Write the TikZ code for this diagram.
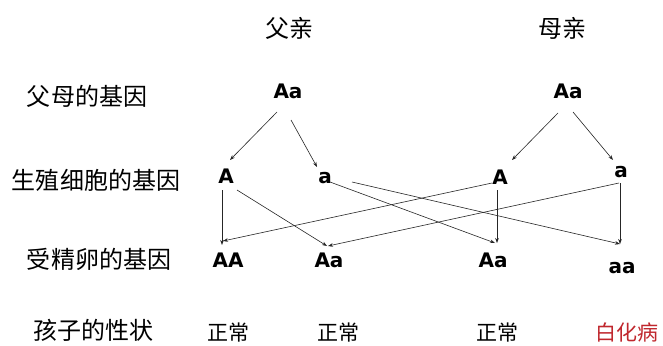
\documentclass[tikz,border=0pt]{standalone}
\usepackage{fontspec}
\setmainfont{DejaVu Sans}
\newfontfamily\cjk{Noto Sans CJK SC}
\usetikzlibrary{arrows.meta}
\begin{document}
\begin{tikzpicture}[x=1pt,y=-1pt,
  gene/.style={font=\fontsize{20}{20}\selectfont\bfseries, inner sep=0pt, anchor=base},
  lbl/.style={font=\cjk\fontsize{24}{24}\selectfont, inner sep=0pt},
  trait/.style={font=\cjk\fontsize{21}{21}\selectfont, inner sep=0pt},
  arr/.style={draw=black!85, line width=0.6pt, -{Stealth[length=5pt,width=3.6pt]}}]
\useasboundingbox[fill=white] (0,0) rectangle (663,345);

% column headers
\node[lbl] (father) at (289,28.5) {父亲};
\node[lbl] (mother) at (562,28) {母亲};

% row labels
\node[lbl] (row1) at (87,96) {父母的基因};
\node[lbl] (row2) at (96,180) {生殖细胞的基因};
\node[lbl] (row3) at (99,259) {受精卵的基因};
\node[lbl] (row4) at (93,330) {孩子的性状};

% parents
\node[gene] (fP) at (288,98) {Aa};
\node[gene] (mP) at (568,98) {Aa};

% gametes
\node[gene] (fA) at (226,183) {A};
\node[gene] (fa) at (325,183) {a};
\node[gene] (mA) at (500,184) {A};
\node[gene] (ma) at (621,177) {a};

% zygotes
\node[gene] (zAA) at (228,267) {AA};
\node[gene] (fAa) at (329,267) {Aa};
\node[gene] (mAa) at (493,267) {Aa};
\node[gene] (zaa) at (622,273) {aa};

% traits
\node[trait] (t1) at (228,332.5) {正常};
\node[trait] (t2) at (338,332.5) {正常};
\node[trait] (t3) at (497,332.5) {正常};
\node[trait, text={rgb,255:red,192;green,39;blue,45}] (t4) at (627,332.5) {白化病};

% parent -> gametes
\draw[arr] ([shift={(-11,14)}]fP.base) -- ([shift={(4,-23)}]fA.base);
\draw[arr] ([shift={(3,22)}]fP.base) -- ([shift={(-8,-16)}]fa.base);
\draw[arr] ([shift={(-10,15)}]mP.base) -- ([shift={(12,-24)}]mA.base);
\draw[arr] ([shift={(5,14)}]mP.base) -- ([shift={(-8,-17)}]ma.base);

% gametes -> zygotes
\draw[arr] ([shift={(-4,7)}]fA.base) -- ([shift={(-6,-22)}]zAA.base);
\draw[arr] ([shift={(11,7)}]fA.base) -- ([shift={(-2,-21)}]fAa.base);
\draw[arr] ([shift={(5,-1)}]fa.base) -- ([shift={(2,-24)}]mAa.base);
\draw[arr] ([shift={(27,-1)}]fa.base) -- ([shift={(-2,-29)}]zaa.base);
\draw[arr] ([shift={(-8,-1)}]mA.base) -- ([shift={(-5,-26)}]zAA.base);
\draw[arr] ([shift={(-3,6)}]mA.base) -- ([shift={(4,-24)}]mAa.base);
\draw[arr] ([shift={(-2,6)}]ma.base) -- ([shift={(-1,-21)}]fAa.base);
\draw[arr] ([shift={(-1,6)}]ma.base) -- ([shift={(-2,-29)}]zaa.base);
\end{tikzpicture}
\end{document}
